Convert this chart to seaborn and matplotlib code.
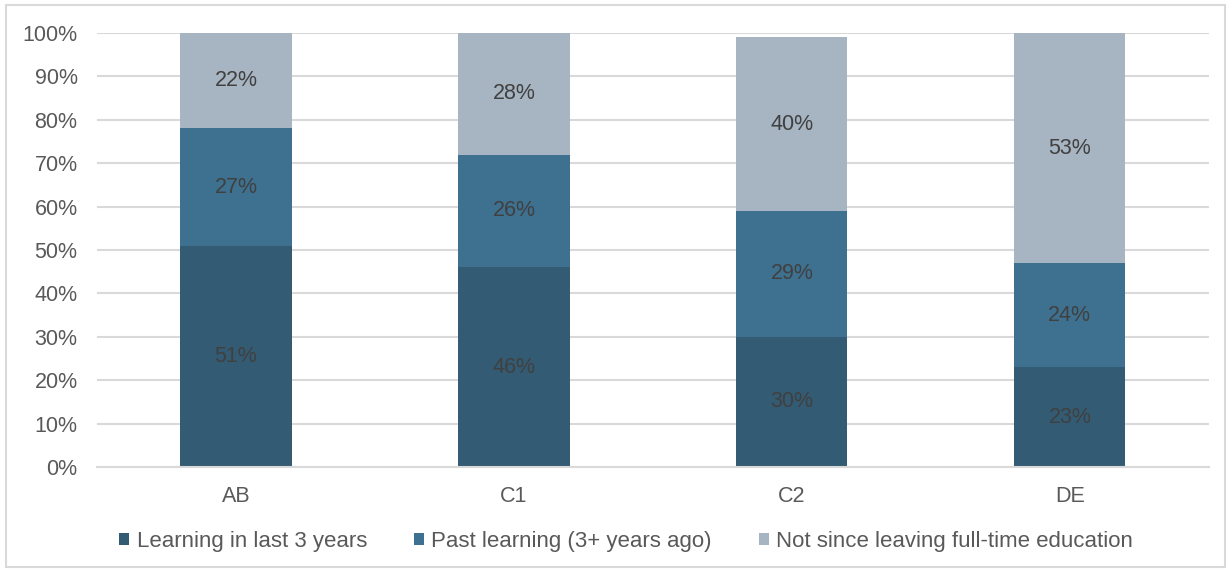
import matplotlib
matplotlib.use("Agg")
import matplotlib.pyplot as plt
from matplotlib.patches import Rectangle
import seaborn as sns
import numpy as np

categories = ["AB", "C1", "C2", "DE"]
learning_last_3 = [51, 46, 30, 23]
past_learning = [27, 26, 29, 24]
not_since_education = [22, 28, 40, 53]
series_names = ["Learning in last 3 years", "Past learning (3+ years ago)",
                "Not since leaving full-time education"]
series_colors = ["#335b74", "#3e7090", "#a7b4c1"]
y_ticks = [0, 10, 20, 30, 40, 50, 60, 70, 80, 90, 100]

sns.set_style("white")
plt.rcParams["font.family"] = ["Liberation Sans", "DejaVu Sans"]

fig = plt.figure(figsize=(12.31, 5.72), dpi=100)
ax = fig.add_axes([0.0788, 0.1836, 0.9032, 0.7587])

# outer frame around the whole chart
fig.patches.append(Rectangle((0.005, 0.008), 0.99, 0.984, transform=fig.transFigure,
                             fill=False, edgecolor="#d9d9d9", linewidth=1.5))

series = [learning_last_3, past_learning, not_since_education]
bottom = np.zeros(len(categories))
text_color = "#404040"
for name, vals, col in zip(series_names, series, series_colors):
    vals = np.array(vals, dtype=float)
    sns.barplot(x=categories, y=vals, bottom=bottom, color=col, width=0.4,
                ax=ax, label=name, saturation=1, edgecolor="none")
    for i, v in enumerate(vals):
        ax.text(i, bottom[i] + v / 2, f"{int(v)}%", ha="center", va="center",
                fontsize=15.5, color=text_color)
    bottom = bottom + vals

ax.set_ylim(0, 100)
ax.set_xlim(-0.5, 3.5)
ax.set_yticks(y_ticks)
ax.set_yticklabels([f"{t}%" for t in y_ticks])
ax.yaxis.grid(True, color="#d9d9d9", linewidth=1.5)
ax.set_axisbelow(True)
for s in ["left", "right", "top"]:
    ax.spines[s].set_visible(False)
ax.spines["bottom"].set_color("#d9d9d9")
ax.spines["bottom"].set_linewidth(1.5)
ax.tick_params(axis="both", length=0, labelsize=15.5, labelcolor="#595959")
ax.tick_params(axis="x", pad=14)
ax.tick_params(axis="y", pad=14)
ax.set_xlabel("")
ax.set_ylabel("")

leg = ax.get_legend()
if leg is not None:
    leg.remove()
handles, labels = ax.get_legend_handles_labels()
fig.legend(handles, labels, loc="center", bbox_to_anchor=(0.5085, 0.054), ncol=3,
           frameon=False, fontsize=16, handlelength=0.45, handleheight=0.45,
           handletextpad=0.35, columnspacing=2.1, labelcolor="#595959")

fig.savefig("out.png", dpi=100)
